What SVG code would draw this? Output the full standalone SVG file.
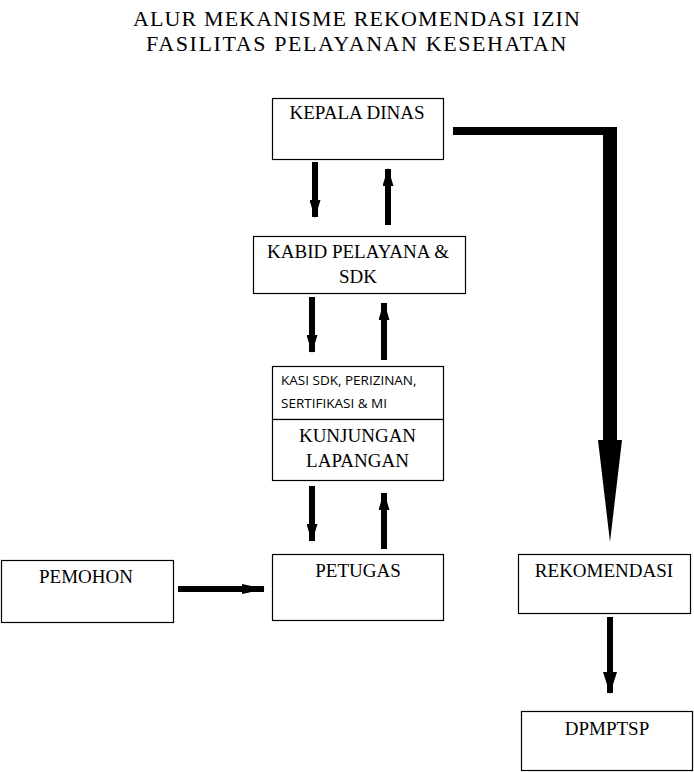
<svg xmlns="http://www.w3.org/2000/svg" width="694" height="772" viewBox="0 0 694 772">
<defs>
<style>
.box{fill:#fff;stroke:#000;stroke-width:1.2}
.t{font-family:"Liberation Serif","Times New Roman",serif;font-size:19px;fill:#000;text-anchor:middle}
.title{font-family:"Liberation Serif","Times New Roman",serif;font-size:22px;fill:#000;text-anchor:middle}
.s{font-family:"Open Sans","Noto Sans",sans-serif;font-size:13.5px;fill:#000}
.ar{stroke:#000;stroke-width:6;fill:none}
</style>
<marker id="ah" markerUnits="userSpaceOnUse" viewBox="0 0 18 11" refX="17" refY="5.5" markerWidth="18" markerHeight="11" orient="auto">
<path d="M0,0 L18,5.5 L0,11 z" fill="#000"/>
</marker>
<marker id="ahL" markerUnits="userSpaceOnUse" viewBox="0 0 23 10" refX="22" refY="5" markerWidth="23" markerHeight="10" orient="auto">
<path d="M0,0 L23,5 L0,10 z" fill="#000"/>
</marker>
<marker id="ahM" markerUnits="userSpaceOnUse" viewBox="0 0 22 14" refX="21" refY="7" markerWidth="22" markerHeight="14" orient="auto">
<path d="M0,0 L22,7 L0,14 z" fill="#000"/>
</marker>
</defs>
<rect width="694" height="772" fill="#fff"/>
<g id="title">
<text class="title" x="357" y="26" letter-spacing="1.1">ALUR MEKANISME REKOMENDASI IZIN</text>
<text class="title" x="357" y="51" letter-spacing="1.6">FASILITAS PELAYANAN KESEHATAN</text>
</g>
<g id="connectors">
<line class="ar" x1="315" y1="162" x2="315" y2="217" marker-end="url(#ah)"/>
<line class="ar" x1="388" y1="225" x2="388" y2="169" marker-end="url(#ah)"/>
<line class="ar" x1="312" y1="297" x2="312" y2="352" marker-end="url(#ah)"/>
<line class="ar" x1="384" y1="360" x2="384" y2="303" marker-end="url(#ah)"/>
<line class="ar" x1="312" y1="486" x2="312" y2="541" marker-end="url(#ah)"/>
<line class="ar" x1="384" y1="549" x2="384" y2="493" marker-end="url(#ah)"/>
<line class="ar" x1="178" y1="589" x2="264" y2="589" marker-end="url(#ahL)"/>
<line class="ar" x1="610" y1="617" x2="610" y2="693" stroke-width="8" marker-end="url(#ahM)"/>
<path d="M453,127 L617,127 L617,440 L622,440 L610,542 L598,440 L603,440 L603,135 L453,135 Z" fill="#000"/>
</g>
<g id="kepala-dinas">
<rect class="box" x="272.5" y="98.5" width="171" height="61"/>
<text class="t" x="357" y="119">KEPALA DINAS</text>
</g>
<g id="kabid">
<rect class="box" x="253.5" y="236.5" width="212" height="57"/>
<text class="t" x="358" y="258">KABID PELAYANA &amp;</text>
<text class="t" x="358" y="283">SDK</text>
</g>
<g id="kasi">
<rect class="box" x="272.5" y="366.5" width="171" height="53"/>
<text class="s" x="281" y="385">KASI SDK, PERIZINAN,</text>
<text class="s" x="281" y="408">SERTIFIKASI &amp; MI</text>
</g>
<g id="kunjungan">
<rect class="box" x="272.5" y="419.5" width="171" height="61"/>
<text class="t" x="357.5" y="442">KUNJUNGAN</text>
<text class="t" x="357.5" y="467">LAPANGAN</text>
</g>
<g id="pemohon">
<rect class="box" x="1.5" y="560.5" width="172" height="62"/>
<text class="t" x="86" y="583">PEMOHON</text>
</g>
<g id="petugas">
<rect class="box" x="272.5" y="554.5" width="171" height="66"/>
<text class="t" x="358" y="577">PETUGAS</text>
</g>
<g id="rekomendasi">
<rect class="box" x="518.5" y="554.5" width="172" height="59"/>
<text class="t" x="604" y="577">REKOMENDASI</text>
</g>
<g id="dpmptsp">
<rect class="box" x="521.5" y="711.5" width="171" height="59"/>
<text class="t" x="607" y="735">DPMPTSP</text>
</g>
</svg>
